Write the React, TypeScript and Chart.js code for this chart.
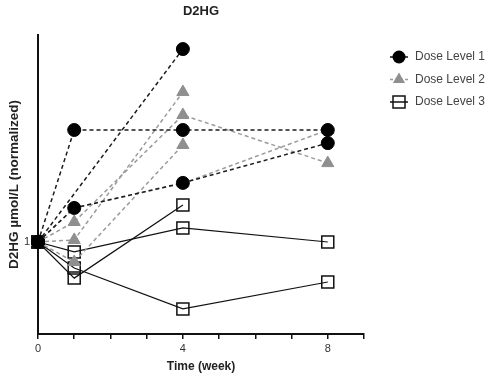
import React, { useEffect, useRef } from 'react';
import { Chart, registerables } from 'chart.js';

Chart.register(...registerables);

// ---- data ----
const weeks = [0, 1, 4, 8];
const xTickValues = [0, 4, 8];
const yTickValues = [1];
const seriesNames = ['Dose Level 1', 'Dose Level 2', 'Dose Level 3'];

// Dose Level 1 (filled circles, black dashed)
const dose1A = [1, 1.487, 1.487, 1.487];
const dose1B = [1, null, 1.839, null];
const dose1C = [1, 1.148, 1.257, 1.43];
// Dose Level 2 (grey triangles, grey dashed)
const dose2A = [1, 1.009, 1.652, null];
const dose2B = [1, 1.087, 1.552, 1.343];
const dose2C = [1, 0.913, 1.422, null];
const dose2D = [1, 1.148, 1.255, 1.487];
// Dose Level 3 (open squares, solid black)
const dose3A = [1, 0.957, 1.061, 1.0];
const dose3B = [1, 0.843, 1.161, null];
const dose3C = [1, 0.887, 0.709, 0.826];

const FONT = "'Liberation Sans', Arial, Helvetica, sans-serif";
const BLACK = '#111111';
const GREY = '#8f8f8f';
const GREY_LINE = '#9a9a9a';

const toPoints = (vals: (number | null)[]) => weeks.map((w, i) => ({ x: w, y: vals[i] }));

const style1 = {
  label: seriesNames[0],
  borderColor: '#1c1c1c',
  borderWidth: 1.5,
  borderDash: [4, 3],
  pointStyle: 'circle',
  pointRadius: 6.5,
  pointBackgroundColor: '#000000',
  pointBorderColor: '#000000',
  pointBorderWidth: 1,
};
const style2 = {
  label: seriesNames[1],
  borderColor: GREY_LINE,
  borderWidth: 1.5,
  borderDash: [4, 3],
  pointStyle: 'triangle',
  pointRadius: 7,
  pointBackgroundColor: GREY,
  pointBorderColor: GREY,
  pointBorderWidth: 1,
};
const style3 = {
  label: seriesNames[2],
  borderColor: BLACK,
  borderWidth: 1.2,
  pointStyle: 'rect',
  pointRadius: 8.5,
  pointBackgroundColor: 'rgba(0,0,0,0)',
  pointBorderColor: BLACK,
  pointBorderWidth: 1.5,
};

const legendPlugin = {
  id: 'doseLegend',
  afterDraw(chart: any) {
    const ctx = chart.ctx as CanvasRenderingContext2D;
    const area = chart.chartArea;
    const cx = area.right + 35;
    const y0 = area.top + 22;
    const step = 22.5;
    ctx.save();
    seriesNames.forEach((name, i) => {
      const cy = y0 + i * step;
      ctx.beginPath();
      ctx.setLineDash(i === 1 ? [3, 2] : []);
      ctx.strokeStyle = i === 1 ? GREY_LINE : BLACK;
      ctx.lineWidth = 1.5;
      ctx.moveTo(cx - 9, cy);
      ctx.lineTo(cx + 9, cy);
      ctx.stroke();
      ctx.setLineDash([]);
      ctx.beginPath();
      if (i === 0) {
        ctx.fillStyle = '#000';
        ctx.arc(cx, cy, 6.5, 0, Math.PI * 2);
        ctx.fill();
      } else if (i === 1) {
        const r = 7;
        ctx.fillStyle = GREY;
        ctx.moveTo(cx, cy - r);
        ctx.lineTo(cx + r * Math.sin((2 * Math.PI) / 3), cy + r * 0.5);
        ctx.lineTo(cx - r * Math.sin((2 * Math.PI) / 3), cy + r * 0.5);
        ctx.closePath();
        ctx.fill();
      } else {
        ctx.strokeStyle = BLACK;
        ctx.lineWidth = 1.5;
        ctx.rect(cx - 6, cy - 6, 12, 12);
        ctx.stroke();
      }
      ctx.fillStyle = '#444444';
      ctx.font = `12px ${FONT}`;
      ctx.textBaseline = 'middle';
      ctx.textAlign = 'left';
      ctx.fillText(name, cx + 16, cy);
    });
    ctx.restore();
  },
};

export default function App() {
  const ref = useRef<HTMLCanvasElement | null>(null);

  useEffect(() => {
    if (!ref.current) return;
    const datasets: any[] = [
      { ...style1, data: toPoints(dose1A) },
      { ...style1, data: toPoints(dose1B) },
      { ...style1, data: toPoints(dose1C) },
      { ...style2, data: toPoints(dose2A) },
      { ...style2, data: toPoints(dose2B) },
      { ...style2, data: toPoints(dose2C) },
      { ...style2, data: toPoints(dose2D) },
      { ...style3, data: toPoints(dose3A) },
      { ...style3, data: toPoints(dose3B) },
      { ...style3, data: toPoints(dose3C) },
    ].map((d) => ({ ...d, fill: false, tension: 0, spanGaps: true, clip: false }));

    const chart = new Chart(ref.current, {
      type: 'line',
      data: { datasets },
      plugins: [legendPlugin],
      options: {
        animation: false,
        responsive: false,
        maintainAspectRatio: false,
        layout: { padding: { left: 0, right: 126, top: 0, bottom: 0 } },
        plugins: {
          legend: { display: false },
          tooltip: { enabled: false },
          title: {
            display: true,
            text: 'D2HG',
            fullSize: false,
            color: '#222222',
            font: { family: FONT, size: 13, weight: 'bold' },
            padding: { top: 4, bottom: 15.4 },
          },
        },
        scales: {
          x: {
            type: 'linear',
            min: 0,
            max: 9,
            afterFit: (s: any) => {
              s.height = 47;
            },
            ticks: {
              stepSize: 1,
              autoSkip: false,
              maxRotation: 0,
              padding: 3,
              color: '#333333',
              font: { family: FONT, size: 11 },
              callback: (v: any) => (xTickValues.includes(Number(v)) ? String(v) : ''),
            },
            grid: {
              drawOnChartArea: false,
              drawTicks: true,
              tickLength: 5,
              color: BLACK,
              lineWidth: 1.5,
            },
            border: { display: true, color: BLACK, width: 2 },
            title: {
              display: true,
              text: 'Time (week)',
              color: '#222222',
              font: { family: FONT, size: 12, weight: 'bold' },
              padding: { top: 0, bottom: 6.8 },
            },
          },
          y: {
            type: 'linear',
            min: 0.6,
            max: 1.9,
            afterFit: (s: any) => {
              s.width = 38;
            },
            afterBuildTicks: (s: any) => {
              s.ticks = yTickValues.map((v) => ({ value: v }));
            },
            ticks: {
              padding: 3,
              color: '#333333',
              font: { family: FONT, size: 11 },
              callback: (v: any) => String(v),
            },
            grid: {
              drawOnChartArea: false,
              drawTicks: true,
              tickLength: 5,
              color: BLACK,
              lineWidth: 1.5,
            },
            border: { display: true, color: BLACK, width: 2 },
            title: {
              display: true,
              text: 'D2HG µmol/L (normalized)',
              color: '#222222',
              font: { family: FONT, size: 13.5, weight: 'bold' },
              padding: { top: 6.4, bottom: 0 },
            },
          },
        },
      },
    });
    return () => chart.destroy();
  }, []);

  return (
    <div style={{ position: 'fixed', left: 0, top: 0, width: 490, height: 381, background: '#fff' }}>
      <canvas ref={ref} width={490} height={381} style={{ width: 490, height: 381, display: 'block' }} />
    </div>
  );
}
